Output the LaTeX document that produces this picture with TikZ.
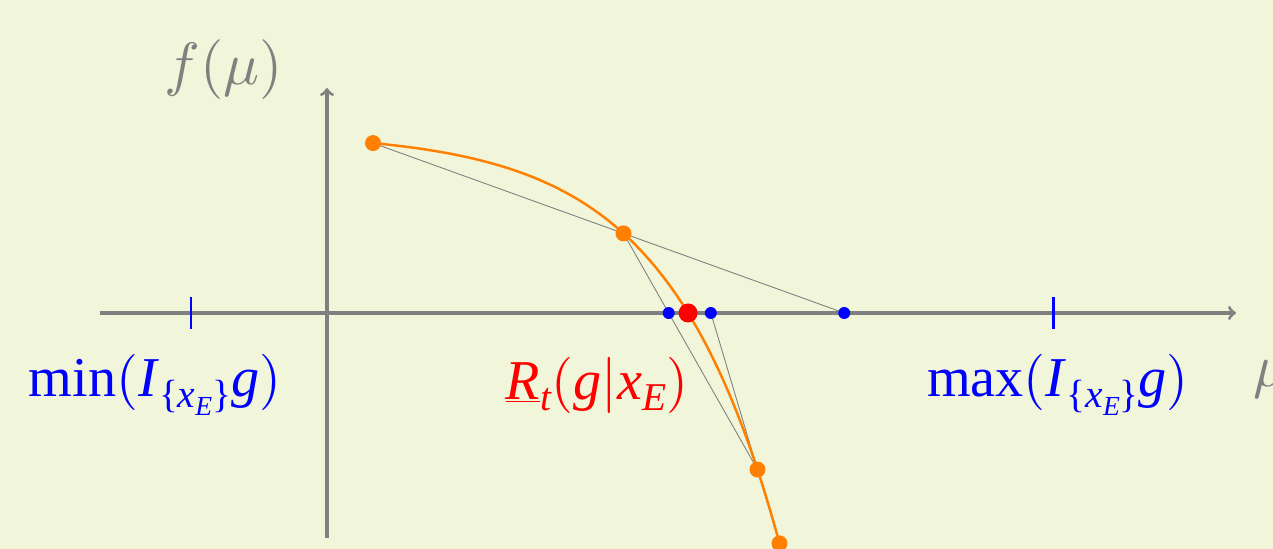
\documentclass[tikz,border=0pt]{standalone}
\usepackage{graphicx}
\usepackage{fontspec}
\newfontfamily\tms{Liberation Serif}
\usetikzlibrary{arrows}
\definecolor{slidebg}{RGB}{241,245,217}
\definecolor{axisgray}{RGB}{128,128,128}
\newcommand{\lowtext}[1]{\raisebox{-0.45ex}{\scalebox{0.7}{#1}}}
\newcommand{\mparen}[1]{{\fontsize{10}{12}\selectfont\scalebox{3.2}{$#1$}}}
\newcommand{\bigmath}[1]{\scalebox{3.4}{$#1$}}

\begin{document}
\begin{tikzpicture}[
  axis/.style={->, >=to, draw=axisgray, line width=1.8pt},
  secant/.style={draw=axisgray, line width=0.5pt},
  curve/.style={draw=orange, line width=1.4pt},
  tickmark/.style={draw=blue, line width=1.7pt},
  odot/.style={circle, fill=orange, inner sep=0pt, minimum size=0.32cm},
  bdot/.style={circle, fill=blue, inner sep=0pt, minimum size=0.24cm},
  rdot/.style={circle, fill=red, inner sep=0pt, minimum size=0.38cm},
  bluelabel/.style={text=blue, font=\fontsize{32}{38}\selectfont\tms},
  graylabel/.style={text=axisgray, font=\fontsize{10}{12}\selectfont},
  declare function={fcurve(\x)=3.61-0.14*exp(0.45*\x);}
]
\useasboundingbox[fill=slidebg] (-6.54,-4.72) rectangle (18.92,6.26);

% axes
\coordinate (xstart) at (-4.54,0);
\coordinate (xend) at (18.18,0);
\coordinate (ystart) at (0,-4.5);
\coordinate (yend) at (0,4.5);
\draw[axis] (xstart) -- (xend);
\draw[axis] (ystart) -- (yend);

% interval ends
\coordinate (lo) at (-2.72,0);
\coordinate (hi) at (14.52,0);
\draw[tickmark] ([yshift=-0.32cm]lo) -- ([yshift=0.32cm]lo);
\draw[tickmark] ([yshift=-0.32cm]hi) -- ([yshift=0.32cm]hi);

% points on the curve
\coordinate (P1) at (0.92,{fcurve(0.92)});
\coordinate (P2) at (5.93,{fcurve(5.93)});
\coordinate (P3) at (8.61,{fcurve(8.61)});
\coordinate (P4) at (9.05,{fcurve(9.05)});
\coordinate (B1) at (intersection of P1--P2 and xstart--xend);
\coordinate (B2) at (intersection of P2--P3 and xstart--xend);
\coordinate (B3) at (intersection of P4--P3 and xstart--xend);
\coordinate (root) at ({ln(3.61/0.14)/0.45},0);

% secants
\draw[secant] (P1) -- (B1);
\draw[secant] (P2) -- (P3);
\draw[secant] (P4) -- (B3);

\draw[curve] plot[domain=0.92:9.05, samples=80] (\x,{fcurve(\x)});

\node[odot] (d1) at (P1) {};
\node[odot] (d2) at (P2) {};
\node[odot] (d3) at (P3) {};
\node[odot] (d4) at (P4) {};
\node[bdot] (z1) at (B1) {};
\node[bdot] (z2) at (B2) {};
\node[bdot] (z3) at (B3) {};
\node[rdot] (zr) at (root) {};

% labels
\node[graylabel] (flab) at (-2.06,4.86) {\bigmath{f(\mu)}};
\node[graylabel, anchor=west] (mulab) at (18.4,-1.32) {\bigmath{\mu}};
\node[bluelabel] (minlab) at (-3.44,-1.44)
  {min\mparen(\textit{I}\lowtext{\{\textit{x}\lowtext{\textit{E}}\}}\textit{g}\mparen)};
\node[bluelabel] (maxlab) at (14.62,-1.44)
  {max\mparen(\textit{I}\lowtext{\{\textit{x}\lowtext{\textit{E}}\}}\textit{g}\mparen)};
\node[bluelabel, text=red] (rlab) at (5.4,-1.44)
  {\underline{\textit{R}}\lowtext{\textit{t}}\mparen(\textit{g}\mparen|\textit{x}\lowtext{\textit{E}}\mparen)};
\end{tikzpicture}
\end{document}
